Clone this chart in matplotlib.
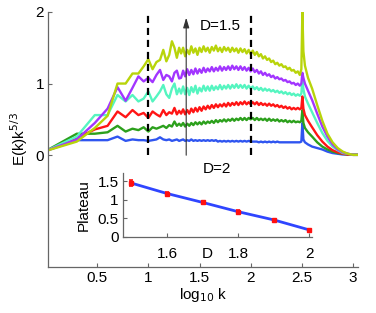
import numpy as np
import matplotlib
matplotlib.use("Agg")
import matplotlib.pyplot as plt

plt.rcParams['font.family'] = ['Liberation Sans', 'DejaVu Sans']

# ---------------- data ----------------
# low wavenumbers: integer k = 1..20
k_low = [1, 2, 3, 4, 5, 6, 7, 8, 9, 10, 11, 12, 13, 14, 15, 16, 17, 18, 19, 20]
# plateau region, log10 k
x_mid = [1.32, 1.34, 1.36, 1.38, 1.40, 1.42, 1.44, 1.46, 1.48, 1.50,
         1.52, 1.54, 1.56, 1.58, 1.60, 1.62, 1.64, 1.66, 1.68, 1.70,
         1.72, 1.74, 1.76, 1.78, 1.80, 1.82, 1.84, 1.86, 1.88, 1.90,
         1.92, 1.94, 1.96, 1.98, 2.00, 2.02, 2.04, 2.06, 2.08, 2.10,
         2.12, 2.14, 2.16, 2.18, 2.20, 2.22, 2.24, 2.26, 2.28, 2.30,
         2.32, 2.34, 2.36, 2.38, 2.40, 2.42, 2.44, 2.46]
# forcing spike and dissipation tail, log10 k
x_tail = [2.48, 2.495, 2.505, 2.515, 2.53, 2.56, 2.60, 2.65, 2.70, 2.75,
          2.80, 2.85, 2.90, 2.95, 3.00, 3.05]

blue_low = [0.06, 0.21, 0.21, 0.21, 0.26, 0.20, 0.22, 0.21, 0.21, 0.20,
            0.21, 0.22, 0.25, 0.22, 0.21, 0.22, 0.20, 0.21, 0.22, 0.20]
blue_mid = [0.21, 0.22, 0.20, 0.21, 0.20, 0.22, 0.20, 0.21, 0.20, 0.21,
            0.20, 0.21, 0.20, 0.21, 0.20, 0.21, 0.20, 0.21, 0.19, 0.20,
            0.19, 0.20, 0.19, 0.20, 0.19, 0.20, 0.19, 0.20, 0.19, 0.20,
            0.19, 0.20, 0.19, 0.20, 0.19, 0.19, 0.19, 0.19, 0.18, 0.19,
            0.18, 0.19, 0.18, 0.19, 0.18, 0.19, 0.18, 0.19, 0.18, 0.18,
            0.18, 0.18, 0.18, 0.18, 0.18, 0.18, 0.18, 0.18]
blue_tail = [0.18, 0.19, 0.45, 0.22, 0.18, 0.15, 0.12, 0.10, 0.08, 0.05,
             0.03, 0.02, 0.01, 0.01, 0.005, 0.005]

green_low = [0.06, 0.30, 0.30, 0.32, 0.41, 0.33, 0.37, 0.35, 0.39, 0.33,
             0.39, 0.37, 0.39, 0.41, 0.38, 0.42, 0.40, 0.47, 0.41, 0.44]
green_mid = [0.41, 0.45, 0.40, 0.44, 0.41, 0.45, 0.42, 0.46, 0.43, 0.46,
             0.43, 0.47, 0.44, 0.47, 0.45, 0.48, 0.45, 0.49, 0.46, 0.49,
             0.47, 0.50, 0.47, 0.50, 0.48, 0.51, 0.48, 0.51, 0.49, 0.52,
             0.49, 0.52, 0.49, 0.52, 0.50, 0.52, 0.49, 0.52, 0.49, 0.51,
             0.49, 0.51, 0.48, 0.51, 0.48, 0.50, 0.48, 0.50, 0.47, 0.49,
             0.47, 0.49, 0.46, 0.48, 0.46, 0.48, 0.46, 0.47]
green_tail = [0.46, 0.48, 0.63, 0.45, 0.38, 0.32, 0.26, 0.18, 0.12, 0.08,
              0.05, 0.03, 0.02, 0.01, 0.005, 0.005]

red_low = [0.06, 0.24, 0.36, 0.41, 0.61, 0.53, 0.63, 0.56, 0.59, 0.52,
           0.61, 0.57, 0.54, 0.63, 0.56, 0.60, 0.58, 0.66, 0.57, 0.62]
red_mid = [0.58, 0.64, 0.57, 0.63, 0.58, 0.65, 0.60, 0.66, 0.61, 0.67,
           0.62, 0.68, 0.64, 0.69, 0.65, 0.70, 0.66, 0.71, 0.67, 0.71,
           0.68, 0.72, 0.68, 0.73, 0.69, 0.73, 0.70, 0.74, 0.70, 0.74,
           0.71, 0.75, 0.71, 0.74, 0.71, 0.74, 0.71, 0.74, 0.70, 0.73,
           0.70, 0.72, 0.69, 0.72, 0.69, 0.71, 0.68, 0.70, 0.67, 0.69,
           0.66, 0.68, 0.65, 0.67, 0.64, 0.66, 0.64, 0.66]
red_tail = [0.64, 0.66, 0.82, 0.65, 0.56, 0.48, 0.39, 0.28, 0.19, 0.12,
            0.07, 0.04, 0.02, 0.01, 0.005, 0.005]

cyan_low = [0.06, 0.26, 0.56, 0.56, 0.84, 0.75, 0.84, 0.75, 0.79, 0.89,
            0.75, 0.82, 0.89, 0.98, 0.85, 0.80, 0.93, 1.00, 0.85, 0.93]
cyan_mid = [0.86, 0.96, 0.85, 0.94, 0.84, 0.95, 0.88, 0.97, 0.86, 0.94,
            0.89, 0.97, 0.90, 0.96, 0.90, 0.97, 0.91, 0.96, 0.92, 0.98,
            0.92, 0.97, 0.93, 0.98, 0.93, 0.98, 0.94, 0.99, 0.94, 0.98,
            0.94, 0.98, 0.93, 0.97, 0.93, 0.96, 0.92, 0.95, 0.91, 0.94,
            0.90, 0.93, 0.90, 0.92, 0.89, 0.91, 0.88, 0.90, 0.87, 0.89,
            0.86, 0.88, 0.85, 0.87, 0.84, 0.86, 0.83, 0.85]
cyan_tail = [0.83, 0.86, 1.05, 0.92, 0.82, 0.72, 0.60, 0.45, 0.31, 0.20,
             0.12, 0.07, 0.03, 0.02, 0.005, 0.005]

purple_low = [0.06, 0.22, 0.45, 0.65, 0.95, 0.76, 0.94, 1.10, 1.03, 1.08,
              1.02, 1.12, 1.19, 1.05, 1.12, 1.10, 1.03, 1.15, 1.18, 1.07]
purple_mid = [1.08, 1.18, 1.10, 1.20, 1.12, 1.19, 1.13, 1.21, 1.14, 1.20,
              1.15, 1.22, 1.16, 1.21, 1.17, 1.23, 1.17, 1.22, 1.18, 1.24,
              1.18, 1.23, 1.19, 1.24, 1.19, 1.25, 1.20, 1.24, 1.19, 1.24,
              1.19, 1.23, 1.18, 1.22, 1.17, 1.21, 1.16, 1.19, 1.14, 1.17,
              1.12, 1.15, 1.11, 1.13, 1.09, 1.11, 1.07, 1.09, 1.06, 1.07,
              1.04, 1.05, 1.02, 1.03, 1.00, 1.01, 0.98, 1.00]
purple_tail = [0.97, 1.00, 1.15, 1.08, 1.00, 0.90, 0.77, 0.58, 0.40, 0.26,
               0.15, 0.08, 0.04, 0.02, 0.005, 0.005]

yellow_low = [0.06, 0.19, 0.38, 0.55, 1.00, 1.00, 1.14, 1.14, 1.24, 1.34,
              1.20, 1.30, 1.33, 1.47, 1.31, 1.40, 1.59, 1.50, 1.36, 1.50]
yellow_mid = [1.42, 1.50, 1.38, 1.47, 1.41, 1.52, 1.43, 1.49, 1.40, 1.50,
              1.44, 1.52, 1.45, 1.50, 1.43, 1.51, 1.46, 1.53, 1.45, 1.50,
              1.44, 1.51, 1.46, 1.50, 1.44, 1.50, 1.45, 1.49, 1.43, 1.49,
              1.44, 1.48, 1.42, 1.47, 1.41, 1.46, 1.40, 1.44, 1.38, 1.41,
              1.35, 1.38, 1.33, 1.35, 1.30, 1.32, 1.27, 1.29, 1.25, 1.27,
              1.23, 1.24, 1.20, 1.22, 1.18, 1.19, 1.15, 1.17]
yellow_tail = [1.12, 1.20, 2.00, 1.45, 1.25, 1.08, 0.93, 0.70, 0.48, 0.30,
               0.18, 0.10, 0.05, 0.02, 0.005, 0.005]

series = [
    ("D=2", "#2f55f0", blue_low, blue_mid, blue_tail),
    ("", "#2ca01c", green_low, green_mid, green_tail),
    ("", "#ff1515", red_low, red_mid, red_tail),
    ("", "#55f5c0", cyan_low, cyan_mid, cyan_tail),
    ("", "#a235ff", purple_low, purple_mid, purple_tail),
    ("D=1.5", "#b8d40a", yellow_low, yellow_mid, yellow_tail),
]

# inset
D_vals = [1.5, 1.6, 1.7, 1.8, 1.9, 2.0]
plateau = [1.45, 1.17, 0.93, 0.68, 0.46, 0.19]
plateau_err = [0.08, 0.05, 0.05, 0.04, 0.03, 0.01]

xticks_main = [0.5, 1, 1.5, 2, 2.5, 3]
xticklabels_main = ["0.5", "1", "1.5", "2", "2.5", "3"]
yticks_main = [0, 1, 2]
yticklabels_main = ["0", "1", "2"]
xticks_in = [1.6, 1.8, 2.0]
xticklabels_in = ["1.6", "1.8", "2"]
yticks_in = [0, 0.5, 1, 1.5]
yticklabels_in = ["0", "0.5", "1", "1.5"]

FS = 11

# ---------------- figure ----------------
fig = plt.figure(figsize=(3.76, 3.13), dpi=100)
ax = fig.add_axes([0.128, 0.147, 0.824, 0.815])

for name, col, lo, mid, tail in series:
    x = list(np.log10(k_low)) + x_mid + x_tail
    y = lo + mid + tail
    ax.plot(x, y, color=col, lw=1.7, solid_joinstyle='round')

# dashed inertial range markers
for xv in [1.0, 2.0]:
    ax.plot([xv, xv], [0, 2], color='black', lw=1.6, dashes=(3.2, 2.2), zorder=5)

# arrow
ax.annotate('', xy=(1.37, 1.92), xytext=(1.37, 0.0),
            arrowprops=dict(arrowstyle='-|>,head_width=0.18,head_length=0.6',
                            color='#333333', lw=0.8, shrinkA=0, shrinkB=0),
            zorder=6)
ax.text(1.5, 1.8, "D=1.5", fontsize=FS, ha='left', va='center')
ax.text(1.535, -0.19, "D=2", fontsize=FS, ha='left', va='center')

ax.set_xlim(0.021, 3.048)
ax.set_ylim(-1.56, 2.0)
ax.set_xticks(xticks_main)
ax.set_xticklabels(xticklabels_main)
ax.set_yticks(yticks_main)
ax.set_yticklabels(yticklabels_main)
for s in ['top', 'right']:
    ax.spines[s].set_visible(False)
for s in ['left', 'bottom']:
    ax.spines[s].set_color('#666666')
    ax.spines[s].set_linewidth(0.9)
ax.tick_params(direction='in', length=3, width=0.8, color='#666666',
               labelsize=FS, pad=3)
ax.set_xlabel(r"log$_{10}$ k", fontsize=FS)
ax.xaxis.set_label_coords(0.5, -0.075)
ax.set_ylabel(r"E(k)k$^{5/3}$", fontsize=FS)
ax.yaxis.set_label_coords(-0.06, 0.5)

# ---------------- inset ----------------
ins = fig.add_axes([0.327, 0.243, 0.503, 0.204])
ins.patch.set_alpha(0)
ins.plot(D_vals, plateau, color='#2f45ff', lw=2.0, zorder=2)
ins.errorbar(D_vals, plateau, yerr=plateau_err, fmt='s', color='#ff1010',
             ms=2.5, elinewidth=1.2, capsize=1.5, capthick=1.2, zorder=3)
ins.set_xlim(1.476, 2.008)
ins.set_ylim(0, 1.72)
ins.set_xticks(xticks_in)
ins.set_xticklabels(xticklabels_in)
ins.set_yticks(yticks_in)
ins.set_yticklabels(yticklabels_in)
for s in ['top', 'right']:
    ins.spines[s].set_visible(False)
for s in ['left', 'bottom']:
    ins.spines[s].set_color('#666666')
    ins.spines[s].set_linewidth(0.9)
ins.tick_params(direction='in', length=3, width=0.8, color='#666666',
                labelsize=FS)
ins.tick_params(axis='x', pad=7)
ins.tick_params(axis='y', pad=3)
ins.set_xlabel("D", fontsize=FS)
ins.xaxis.set_label_coords(0.444, -0.15)
ins.set_ylabel("Plateau", fontsize=FS)
ins.yaxis.set_label_coords(-0.17, 0.5)

fig.savefig("out.png", dpi=100)
